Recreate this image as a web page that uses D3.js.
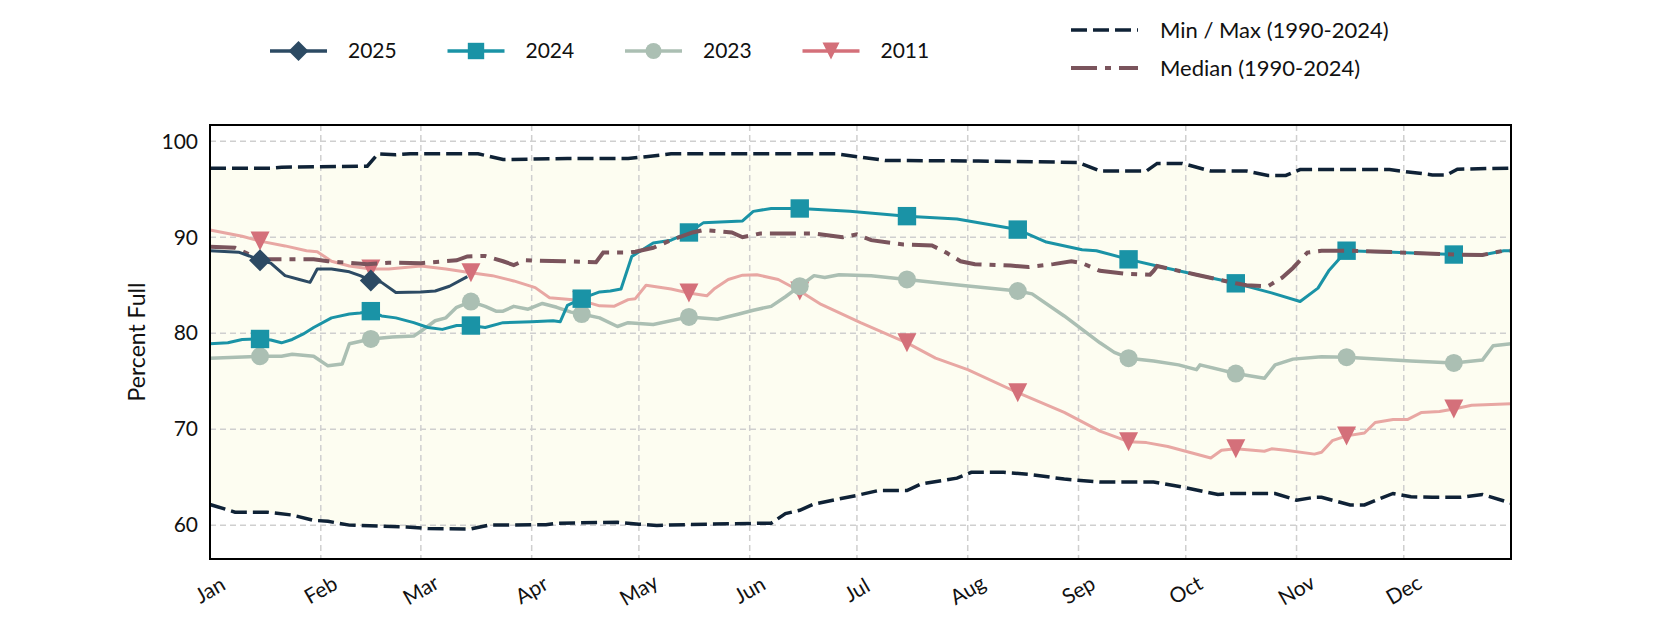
<!DOCTYPE html>
<html>
<head>
<meta charset="utf-8">
<script src="https://cdn.jsdelivr.net/npm/d3@7"></script>
<style>
  body { margin: 0; background: #fff; }
  svg text { font-family: Lato, "Open Sans", sans-serif; fill: #111; }
</style>
</head>
<body>
<div id="chart"></div>
<script>
// day offsets from Jan 1 and percent full
var daysMax = [0, 17, 20, 44, 47, 52, 56, 75, 82, 100, 117, 122, 129, 175, 189, 215, 243, 249, 262, 265, 272, 280, 290, 296, 301, 305, 330, 342, 346, 349, 364];
var pctMax  = [97.2, 97.2, 97.3, 97.4, 98.7, 98.6, 98.7, 98.7, 98.1, 98.2, 98.2, 98.4, 98.7, 98.7, 98.0, 97.95, 97.8, 96.9, 96.9, 97.7, 97.7, 96.9, 96.9, 96.45, 96.45, 97.05, 97.05, 96.5, 96.5, 97.1, 97.2];

var daysMin = [0, 7, 16, 23, 29, 33, 39, 55, 61, 73, 78, 94, 97, 114, 120, 125, 139, 155, 157, 161, 165, 169, 181, 187, 195, 199, 209, 213, 222, 229, 239, 249, 255, 264, 273, 282, 286, 298, 304, 309, 311, 319, 323, 331, 336, 342, 350, 356, 364];
var pctMin  = [62.15, 61.35, 61.35, 61.05, 60.5, 60.4, 60.0, 59.8, 59.65, 59.6, 60.0, 60.05, 60.2, 60.3, 60.1, 59.97, 60.1, 60.2, 60.2, 61.2, 61.55, 62.2, 63.1, 63.6, 63.6, 64.3, 64.9, 65.5, 65.5, 65.3, 64.8, 64.5, 64.5, 64.5, 63.9, 63.2, 63.3, 63.3, 62.6, 62.9, 62.9, 62.1, 62.1, 63.3, 62.95, 62.9, 62.9, 63.2, 62.3];

var daysMedian = [0, 7, 11, 14, 29, 33, 44, 50, 59, 69, 72, 77, 82, 85, 88, 99, 108, 110, 117, 119, 124, 129, 135, 138, 146, 149, 154, 169, 177, 181, 185, 194, 202, 206, 210, 214, 224, 229, 236, 241, 244, 249, 256, 263, 264, 265, 276, 287, 290, 296, 300, 303, 307, 311, 318, 331, 348, 356, 362, 364];
var pctMedian  = [89.0, 88.9, 88.2, 87.7, 87.7, 87.5, 87.2, 87.35, 87.3, 87.6, 88.0, 88.05, 87.5, 87.1, 87.6, 87.5, 87.4, 88.4, 88.4, 88.5, 88.9, 89.7, 90.5, 90.75, 90.5, 90.0, 90.4, 90.4, 90.0, 90.3, 89.7, 89.25, 89.15, 88.4, 87.5, 87.2, 87.05, 86.9, 87.2, 87.5, 87.3, 86.5, 86.2, 86.1, 86.5, 87.0, 86.1, 85.2, 85.0, 84.9, 85.8, 86.8, 88.4, 88.6, 88.6, 88.45, 88.2, 88.15, 88.6, 88.6];

var days2025 = [0, 8, 11, 14, 17, 21, 25, 28, 30, 34, 39, 42, 45, 48, 52, 59, 63, 67, 72];
var pct2025  = [88.6, 88.45, 88.05, 87.6, 87.3, 86.0, 85.6, 85.3, 86.7, 86.7, 86.4, 86.0, 85.5, 85.3, 84.25, 84.3, 84.4, 84.9, 85.9];

var days2024 = [0, 5, 9, 14, 17, 20, 23, 26, 29, 34, 39, 42, 45, 48, 52, 57, 61, 65, 69, 73, 77, 82, 90, 96, 98, 100, 104, 106, 109, 112, 115, 118, 124, 129, 134, 138, 149, 152, 157, 165, 179, 195, 209, 226, 234, 244, 248, 257, 265, 276, 287, 297, 305, 310, 313, 318, 331, 348, 356, 362, 364];
var pct2024  = [78.9, 79.0, 79.35, 79.4, 79.3, 79.0, 79.35, 79.9, 80.6, 81.6, 82.0, 82.1, 82.3, 81.8, 81.6, 81.1, 80.6, 80.4, 80.8, 80.8, 80.6, 81.1, 81.2, 81.3, 81.2, 82.9, 83.6, 83.9, 84.3, 84.4, 84.6, 88.0, 89.4, 89.7, 90.5, 91.5, 91.7, 92.7, 93.0, 93.0, 92.7, 92.2, 91.9, 90.8, 89.5, 88.7, 88.6, 87.7, 87.0, 86.1, 85.2, 84.2, 83.3, 84.7, 86.5, 88.6, 88.45, 88.2, 88.15, 88.6, 88.6];

var days2023 = [0, 14, 20, 23, 29, 33, 37, 39, 45, 51, 57, 59, 63, 66, 69, 73, 77, 80, 82, 85, 89, 93, 97, 101, 104, 109, 114, 117, 124, 134, 142, 148, 152, 157, 161, 165, 169, 172, 176, 185, 195, 210, 226, 230, 239, 244, 249, 253, 257, 264, 271, 276, 277, 287, 295, 298, 303, 311, 318, 336, 348, 356, 359, 364];
var pct2023  = [77.4, 77.6, 77.6, 77.8, 77.6, 76.6, 76.8, 78.9, 79.4, 79.6, 79.7, 80.2, 81.3, 81.6, 82.7, 83.3, 82.8, 82.3, 82.3, 82.8, 82.5, 83.1, 82.7, 82.2, 82.0, 81.6, 80.7, 81.1, 80.9, 81.7, 81.45, 82.0, 82.4, 82.8, 83.8, 84.9, 86.0, 85.8, 86.1, 86.0, 85.6, 85.0, 84.4, 84.1, 81.8, 80.4, 79.0, 78.0, 77.4, 77.1, 76.7, 76.2, 76.7, 75.8, 75.3, 76.7, 77.3, 77.55, 77.5, 77.1, 76.9, 77.2, 78.7, 78.9];

var days2011 = [0, 9, 14, 21, 27, 30, 34, 39, 45, 50, 59, 66, 73, 79, 85, 91, 95, 104, 109, 113, 117, 119, 122, 129, 134, 139, 141, 145, 149, 153, 159, 165, 171, 182, 195, 203, 212, 226, 239, 249, 257, 262, 268, 274, 280, 283, 287, 295, 297, 301, 309, 311, 314, 318, 323, 326, 331, 335, 339, 344, 348, 353, 364];
var pct2011  = [90.75, 90.1, 89.6, 89.1, 88.6, 88.5, 87.5, 87.0, 86.7, 86.7, 87.0, 86.7, 86.3, 86.0, 85.45, 84.75, 83.7, 83.4, 82.85, 82.8, 83.5, 83.6, 85.0, 84.6, 84.2, 83.9, 84.6, 85.6, 86.05, 86.1, 85.6, 84.4, 83.0, 81.1, 79.0, 77.4, 76.2, 73.8, 71.75, 69.8, 68.7, 68.6, 68.2, 67.6, 67.0, 67.8, 67.95, 67.7, 67.95, 67.8, 67.4, 67.6, 68.8, 69.3, 69.6, 70.7, 71.0, 71.0, 71.75, 71.85, 72.1, 72.5, 72.65];

var yTicks = [60, 70, 80, 90, 100];
var monthLabels = ["Jan", "Feb", "Mar", "Apr", "May", "Jun", "Jul", "Aug", "Sep", "Oct", "Nov", "Dec"];

var W = 1680, H = 630;
var mLeft = 210, mRight = 1511, mTop = 125, mBottom = 559;
var start = new Date(2025, 0, 1);

var toPoints = function(days, vals){
  return days.map(function(d, i){ return {date: d3.timeDay.offset(start, d), v: vals[i]}; });
};

var x = d3.scaleTime().domain([start, new Date(2025, 11, 31)]).range([mLeft, mRight]);
var y = d3.scaleLinear().domain([56.47, 101.7]).range([mBottom, mTop]);

var svg = d3.select("#chart").append("svg").attr("width", W).attr("height", H);

var line = d3.line()
  .x(function(d){ return x(d.date); })
  .y(function(d){ return y(d.v); });

// marker shapes, s = half width
var shapes = {
  diamond: { draw: function(c, s){ c.moveTo(0, -s); c.lineTo(s, 0); c.lineTo(0, s); c.lineTo(-s, 0); c.closePath(); } },
  square:  { draw: function(c, s){ c.rect(-s, -s, 2 * s, 2 * s); } },
  circle:  { draw: function(c, s){ c.moveTo(s, 0); c.arc(0, 0, s, 0, 2 * Math.PI); } },
  tri:     { draw: function(c, s){ c.moveTo(-s, -s); c.lineTo(s, -s); c.lineTo(0, s); c.closePath(); } }
};

var maxPts = toPoints(daysMax, pctMax);
var minPts = toPoints(daysMin, pctMin);

// band between min and max
svg.append("path")
  .attr("d", line(maxPts.concat(minPts.slice().reverse())) + "Z")
  .attr("fill", "#fdfdf1");

// grid
var months = d3.timeMonth.range(start, new Date(2025, 11, 31));
svg.append("g").selectAll("line").data(months).enter().append("line")
  .attr("x1", function(d){ return x(d); }).attr("x2", function(d){ return x(d); })
  .attr("y1", mTop).attr("y2", mBottom)
  .attr("stroke", "#cfcfcf").attr("stroke-width", 1.5).attr("stroke-dasharray", "6,4");
svg.append("g").selectAll("line").data(yTicks).enter().append("line")
  .attr("x1", mLeft).attr("x2", mRight)
  .attr("y1", function(d){ return y(d); }).attr("y2", function(d){ return y(d); })
  .attr("stroke", "#cfcfcf").attr("stroke-width", 1.5).attr("stroke-dasharray", "6,4");

var minMaxStyle = {color: "#0f2236", width: 3.5, dash: "16,6"};
[maxPts, minPts].forEach(function(p){
  svg.append("path").attr("d", line(p)).attr("fill", "none")
    .attr("stroke", minMaxStyle.color).attr("stroke-width", minMaxStyle.width)
    .attr("stroke-dasharray", minMaxStyle.dash);
});

var series = [
  {name: "2011", days: days2011, vals: pct2011, color: "#d4707a", lineColor: "#e8a7a3", shape: "tri", size: 9.5, width: 3},
  {name: "2023", days: days2023, vals: pct2023, color: "#abbfb3", lineColor: "#abbfb3", shape: "circle", size: 9, width: 3.5},
  {name: "2024", days: days2024, vals: pct2024, color: "#1a93a6", lineColor: "#1a93a6", shape: "square", size: 9.2, width: 3},
  {name: "2025", days: days2025, vals: pct2025, color: "#2c4a63", lineColor: "#2c4a63", shape: "diamond", size: 11, width: 3}
];

var medianStyle = {color: "#7a545c", width: 4, dash: "26,8,6,8"};

var drawSeries = function(s){
  var pts = toPoints(s.days, s.vals);
  svg.append("path").attr("d", line(pts)).attr("fill", "none")
    .attr("stroke", s.lineColor).attr("stroke-width", s.width)
    .attr("stroke-linejoin", "round");
  svg.append("g").selectAll("path")
    .data(pts.filter(function(d){ return d.date.getDate() === 15; }))
    .enter().append("path")
    .attr("transform", function(d){ return "translate(" + x(d.date) + "," + y(d.v) + ")"; })
    .attr("d", d3.symbol().type(shapes[s.shape]).size(s.size))
    .attr("fill", s.color);
};

series.slice(0, 3).forEach(drawSeries);

svg.append("path").attr("d", line(toPoints(daysMedian, pctMedian))).attr("fill", "none")
  .attr("stroke", medianStyle.color).attr("stroke-width", medianStyle.width)
  .attr("stroke-dasharray", medianStyle.dash);

drawSeries(series[3]);

// frame
svg.append("rect").attr("x", mLeft).attr("y", mTop)
  .attr("width", mRight - mLeft).attr("height", mBottom - mTop)
  .attr("fill", "none").attr("stroke", "#000").attr("stroke-width", 2);

// y axis
var yAxis = svg.append("g").attr("transform", "translate(" + mLeft + ",0)")
  .call(d3.axisLeft(y).tickValues(yTicks).tickSize(0).tickPadding(12));
yAxis.select(".domain").remove();
yAxis.selectAll("text").style("font-size", "21px");

// x labels
svg.append("g").selectAll("text").data(months).enter().append("text")
  .attr("transform", function(d){ return "translate(" + x(d) + ",590) rotate(-30)"; })
  .attr("text-anchor", "middle").attr("dy", "0.35em")
  .style("font-size", "21px")
  .text(function(d, i){ return monthLabels[i]; });

svg.append("text")
  .attr("transform", "translate(137," + ((mTop + mBottom) / 2) + ") rotate(-90)")
  .attr("text-anchor", "middle").attr("dy", "0.35em")
  .style("font-size", "23px")
  .text("Percent Full");

// legend, years
var legendOrder = [series[3], series[2], series[1], series[0]];
legendOrder.forEach(function(s, i){
  var lx = 270 + i * 177.5, ly = 51;
  var g = svg.append("g");
  g.append("line").attr("x1", lx).attr("x2", lx + 57).attr("y1", ly).attr("y2", ly)
    .attr("stroke", s.color).attr("stroke-width", 3.5);
  g.append("path").attr("transform", "translate(" + (lx + 28.5) + "," + ly + ")")
    .attr("d", d3.symbol().type(shapes[s.shape]).size(s.size - 1))
    .attr("fill", s.color);
  g.append("text").attr("x", lx + 78).attr("y", ly).attr("dy", "0.35em")
    .style("font-size", "21px").text(s.name);
});

// legend, reference lines
var refItems = [
  {label: "Min / Max (1990-2024)", style: minMaxStyle, ly: 30},
  {label: "Median (1990-2024)", style: medianStyle, ly: 68}
];
refItems.forEach(function(r){
  svg.append("line").attr("x1", 1071).attr("x2", 1138).attr("y1", r.ly).attr("y2", r.ly)
    .attr("stroke", r.style.color).attr("stroke-width", r.style.width)
    .attr("stroke-dasharray", r.style.dash);
  svg.append("text").attr("x", 1160).attr("y", r.ly).attr("dy", "0.35em")
    .style("font-size", "22px").text(r.label);
});
</script>
</body>
</html>
